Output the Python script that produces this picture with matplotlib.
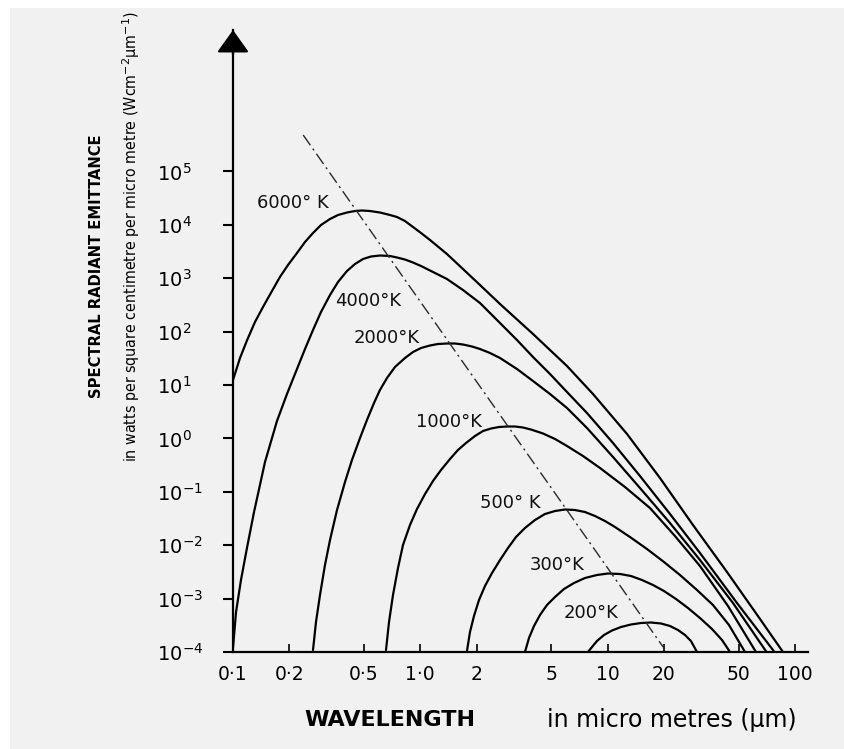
import os
import matplotlib.pyplot as plt
from matplotlib.patches import Rectangle
from matplotlib.ticker import NullLocator
from matplotlib import font_manager
from matplotlib.font_manager import FontProperties

# curves: wavelength (um) and spectral emittance (W cm-2 um-1)
wl_6000 = [0.100, 0.109, 0.119, 0.131, 0.1446, 0.1615, 0.178, 0.1966, 0.2196, 0.2423, 0.2674, 0.2950,
           0.3296, 0.3636, 0.4061, 0.4481, 0.4884, 0.5387, 0.6091, 0.6888, 0.7511, 0.8284, 0.9142,
           1.009, 1.127, 1.388, 1.690, 2.083, 2.665, 3.998, 6.070, 8.356, 12.70, 19.04, 28.57, 43.41,
           65.14, 86.40]
em_6000 = [12.41, 32.04, 69.6, 151.3, 288.9, 576, 1053, 1767, 2966, 4766, 7024, 9917,
           12850, 15270, 17000, 18140, 18530, 18140, 17000, 15270, 14000, 11780, 9100,
           7024, 5194, 2840, 1487, 746, 328.9, 90.2, 22.69, 6.786, 1.209, 0.1814, 0.02389, 3.149e-3,
           4.150e-4, 1e-4]

wl_4000 = [0.100, 0.1038, 0.1103, 0.119, 0.1295, 0.1482, 0.1717, 0.1942, 0.2196, 0.2423, 0.2674,
           0.2950, 0.3296, 0.3636, 0.4061, 0.4481, 0.4945, 0.5454, 0.6091, 0.6888, 0.7511, 0.8284,
           0.9142, 1.009, 1.127, 1.388, 1.690, 2.083, 2.568, 3.283, 3.998, 4.926, 6.070, 7.762,
           10.69, 14.89, 21.54, 31.14, 49.08, 77.83]
em_4000 = [1.188e-4, 5.612e-4, 2.230e-3, 9.254e-3, 0.04184, 0.3614, 2.118, 6.786, 19.94, 47.23, 107.2,
           232.9, 484.8, 849.2, 1365, 1846, 2289, 2550, 2662, 2606, 2442, 2240,
           1969, 1693, 1394, 966.5, 601.3, 343.4, 165.0, 69.6, 33.45, 16.08, 7.396, 2.990,
           0.8202, 0.1977, 0.03839, 7.145e-3, 8.269e-4, 1e-4]

wl_2000 = [0.2674, 0.2774, 0.2914, 0.3098, 0.3296, 0.3592, 0.3963, 0.4317, 0.4766, 0.5191, 0.5660,
           0.6091, 0.6640, 0.7326, 0.8284, 0.9142, 1.009, 1.127, 1.243, 1.388, 1.532, 1.690, 1.888,
           2.083, 2.356, 2.665, 3.283, 3.998, 4.926, 6.070, 7.762, 10.69, 14.89, 21.54, 31.14,
           46.72, 70.56]
em_2000 = [1.090e-4, 3.646e-4, 1.168e-3, 4.257e-3, 0.01252, 0.04562, 0.1527, 0.3941, 1.018, 2.211, 4.603,
           8.064, 13.53, 21.74, 32.04, 41.50, 49.32, 54.94, 58.61, 59.89, 59.89, 57.36, 52.62,
           47.23, 39.75, 32.04, 19.94, 11.89, 6.786, 3.710, 1.566, 0.4486, 0.1178, 0.02604, 5.283e-3,
           8.269e-4, 1e-4]

wl_1000 = [0.6561, 0.6807, 0.7149, 0.7603, 0.8083, 0.8810, 0.9603, 1.060, 1.169, 1.290, 1.441, 1.589,
           1.754, 1.959, 2.162, 2.385, 2.632, 2.904, 3.203, 3.534, 3.899, 4.520, 5.239, 6.070,
           7.390, 9.109, 12.38, 16.84, 22.89, 31.14, 43.94, 61.98]
em_1000 = [1.090e-4, 3.646e-4, 1.168e-3, 3.742e-3, 0.01009, 0.02389, 0.04764, 0.09097, 0.1594, 0.2561,
           0.4115, 0.6066, 0.8202, 1.109, 1.376, 1.532, 1.635, 1.671, 1.671, 1.600, 1.468, 1.236,
           0.9748, 0.7212, 0.4683, 0.2792, 0.1230, 0.04973, 0.01487, 4.077e-3, 7.267e-4, 1e-4]

wl_500 = [1.775, 1.842, 1.935, 2.058, 2.215, 2.415, 2.665, 2.939, 3.243, 3.622, 4.097, 4.632, 5.239,
          5.924, 6.698, 7.574, 8.565, 9.685, 10.95, 13.17, 16.23, 20.00, 24.35, 30.01, 36.53, 44.48,
          54.16]
em_500 = [1.044e-4, 2.368e-4, 4.723e-4, 9.415e-4, 1.722e-3, 3.016e-3, 5.283e-3, 8.863e-3, 0.01424,
          0.02100, 0.02965, 0.03839, 0.04369, 0.04662, 0.04562, 0.04184, 0.03523, 0.02839, 0.02193,
          0.01424, 8.489e-3, 4.846e-3, 2.767e-3, 1.449e-3, 7.589e-4, 3.202e-4, 1e-4]

wl_300 = [3.622, 3.805, 4.047, 4.356, 4.747, 5.239, 5.852, 6.617, 7.574, 8.778, 10.05, 11.65, 13.33,
          15.26, 17.48, 20.00, 23.19, 26.87, 31.14, 36.09, 40.82, 45.04]
em_300 = [1e-4, 1.829e-4, 3.068e-4, 4.930e-4, 7.589e-4, 1.072e-3, 1.513e-3, 1.960e-3, 2.431e-3,
          2.767e-3, 2.953e-3, 2.889e-3, 2.651e-3, 2.230e-3, 1.797e-3, 1.388e-3, 9.829e-4, 6.668e-4,
          4.331e-4, 2.696e-4, 1.678e-4, 1e-4]

wl_200 = [7.857, 8.255, 8.778, 9.567, 10.56, 11.79, 13.33, 15.08, 17.05, 19.28, 21.54, 23.75, 25.90,
          27.87, 30.01]
em_200 = [1e-4, 1.240e-4, 1.607e-4, 2.081e-4, 2.527e-4, 2.939e-4, 3.273e-4, 3.492e-4, 3.568e-4,
          3.418e-4, 3.068e-4, 2.582e-4, 2.081e-4, 1.607e-4, 1e-4]

# line through the peaks
wien_wl = [0.237, 19.8]
wien_em = [4.8e5, 1.24e-4]

temp_labels = ['6000° K', '4000°K', '2000°K', '1000°K', '500° K', '300°K', '200°K']
label_wl = [0.209, 0.526, 0.664, 1.42, 3.01, 5.37, 8.15]
label_em = [2.56e4, 374, 75.9, 2.03, 0.0617, 4.26e-3, 5.37e-4]

xtick_vals = [0.1, 0.2, 0.5, 1, 2, 5, 10, 20, 50, 100]
xtick_labels = ['0·1', '0·2', '0·5', '1·0', '2', '5', '10', '20', '50', '100']
ytick_exps = [-4, -3, -2, -1, 0, 1, 2, 3, 4, 5]

PREFERRED = ('liberation', 'dejavu', 'noto', 'roboto')


def condensed_font(bold):
    """Look for a plain condensed / narrow sans font file."""
    found = []
    for f in font_manager.fontManager.ttflist:
        b = os.path.basename(f.fname).lower()
        if not ('narrow' in b or 'condensed' in b):
            continue
        if any(k in b for k in ('serif', 'mono', 'italic', 'oblique', 'extra', 'semi', 'ultra',
                                'light', 'thin', 'black', 'medium')):
            continue
        if ('bold' in b) != bold:
            continue
        found.append(f.fname)

    def rank(p):
        b = os.path.basename(p).lower()
        for i, k in enumerate(PREFERRED):
            if k in b:
                return i
        return 9
    found.sort(key=rank)
    return found[0] if found else None


W, H = 844, 749
fig = plt.figure(figsize=(W / 100, H / 100), dpi=100, facecolor='white')
fig.patches.append(Rectangle((10 / W, 0), 1, 1 - 8 / H, transform=fig.transFigure,
                             facecolor='#f1f1f1', edgecolor='none', zorder=-10))

ax = fig.add_axes([233 / W, 1 - 652 / H, (808 - 233) / W, (652 - 30) / H])
ax.set_facecolor('none')
ax.set_xscale('log')
ax.set_yscale('log')
ax.set_xlim(0.1, 117.5)
ax.set_ylim(1e-4, 4.45e7)

curves = [(wl_6000, em_6000), (wl_4000, em_4000), (wl_2000, em_2000), (wl_1000, em_1000),
          (wl_500, em_500), (wl_300, em_300), (wl_200, em_200)]
for wl, em in curves:
    ax.plot(wl, em, color='black', lw=1.6, solid_joinstyle='round', solid_capstyle='round')

ax.plot(wien_wl, wien_em, color='#2a2a2a', lw=1.0, dashes=(9, 3, 1.5, 3))

for txt, x, y in zip(temp_labels, label_wl, label_em):
    ax.text(x, y, txt, fontsize=13, ha='center', va='center', color='#111111')

for side in ['top', 'right']:
    ax.spines[side].set_visible(False)
for side in ['left', 'bottom']:
    ax.spines[side].set_linewidth(1.6)

# arrow head on the y axis
ax.annotate('', xy=(0, 1), xycoords='axes fraction', xytext=(0, 0.96),
            arrowprops=dict(arrowstyle='-|>,head_length=0.7,head_width=0.5', color='black',
                            lw=1.6, mutation_scale=20, shrinkA=0, shrinkB=0))

ax.set_xticks(xtick_vals)
ax.set_xticklabels(xtick_labels)
ax.set_yticks([10.0 ** e for e in ytick_exps])
ax.set_yticklabels([r'$10^{%d}$' % e for e in ytick_exps])
ax.xaxis.set_minor_locator(NullLocator())
ax.yaxis.set_minor_locator(NullLocator())
ax.tick_params(axis='x', direction='in', length=6, width=1.2, pad=9, labelsize=13.5)
ax.tick_params(axis='y', direction='out', length=7, width=1.5, pad=47.7, labelsize=14)
for lab in ax.get_yticklabels():
    lab.set_horizontalalignment('left')

# y axis title, two lines, narrow type
f_bold = condensed_font(True) or condensed_font(False)
f_reg = condensed_font(False)
fp1 = FontProperties(fname=f_bold) if f_bold else FontProperties(family='DejaVu Sans', weight='bold')
fp2 = FontProperties(fname=f_reg) if f_reg else FontProperties(family='DejaVu Sans')
fp1.set_size(13)
fp2.set_size(12)

t1 = fig.text(97 / W, 1 - 266 / H, 'SPECTRAL RADIANT EMITTANCE', rotation=90, ha='center',
              va='center', fontproperties=fp1)
t2 = fig.text(131 / W, 1 - 236 / H,
              r'in watts per square centimetre per micro metre (Wcm$^{-2}$µm$^{-1}$)',
              rotation=90, ha='center', va='center', fontproperties=fp2)

# shrink the y title lines to the length they have in the picture
renderer = fig.canvas.get_renderer()
for t, length in [(t1, 262), (t2, 452)]:
    cur = t.get_window_extent(renderer).height
    if cur > length:
        t.set_fontsize(t.get_fontsize() * length / cur)

fig.text(390 / W, 1 - 720 / H, 'WAVELENGTH', ha='center', va='center', fontsize=16,
         fontweight='bold')
fig.text(672 / W, 1 - 720 / H, 'in micro metres (µm)', ha='center', va='center', fontsize=17)

fig.savefig('out.png', dpi=100, facecolor=fig.get_facecolor())
